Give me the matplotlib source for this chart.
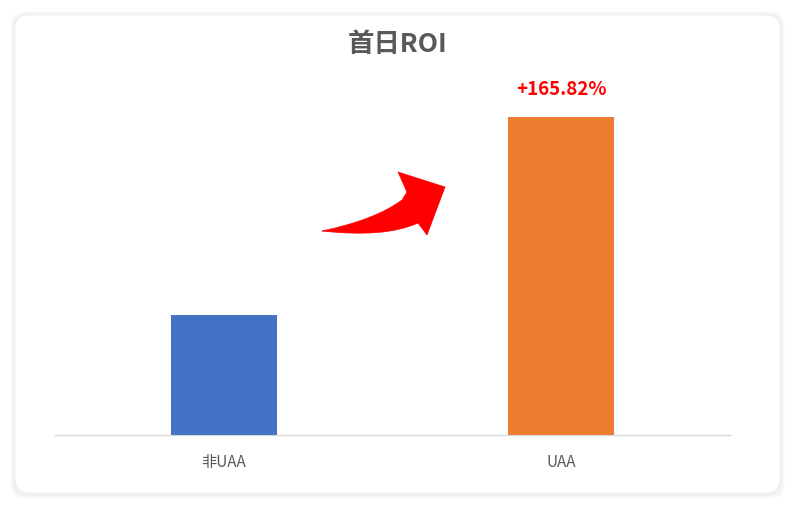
import matplotlib
matplotlib.use("Agg")
import matplotlib.pyplot as plt
from matplotlib.patches import FancyBboxPatch, PathPatch
from matplotlib.path import Path

plt.rcParams['font.family'] = ['Noto Sans CJK SC', 'DejaVu Sans']

categories = ["非UAA", "UAA"]
roi = [1.0, 2.6582]
colors = ["#4472C4", "#ED7D31"]
growth_label = "+165.82%"
title = "首日ROI"

W, H = 795, 509
fig = plt.figure(figsize=(W / 100, H / 100), dpi=100)
fig.patch.set_facecolor("white")

def fx(x):
    return x / W

def fy(y):
    return 1 - y / H

# card shadow + card
for i, a in enumerate([0.010, 0.013, 0.016, 0.020]):
    s = 5 - i
    sh = FancyBboxPatch((fx(15 - s), fy(493 + s + 1)), fx(765 + 2 * s), (478 + 2 * s) / H,
                        boxstyle="round,pad=0,rounding_size=0.018",
                        transform=fig.transFigure, facecolor="black", edgecolor="none",
                        alpha=a, zorder=-3, mutation_aspect=W / H)
    fig.patches.append(sh)
card = FancyBboxPatch((fx(15), fy(493)), fx(765), 478 / H,
                      boxstyle="round,pad=0,rounding_size=0.018",
                      transform=fig.transFigure, facecolor="white", edgecolor="#F0F0F0",
                      linewidth=0.5, zorder=-2, mutation_aspect=W / H)
fig.patches.append(card)

ax = fig.add_axes([fx(55), fy(435), fx(730) - fx(55), fy(78) - fy(435)])
ax.set_zorder(2)
ax.set_facecolor("none")
x = list(range(len(categories)))
ax.bar(x, roi, width=0.315, color=colors, zorder=3)
ax.set_xlim(-0.5, 1.5)
ax.set_ylim(0, 2.984)
ax.set_yticks([])
ax.set_xticks(x)
ax.set_xticklabels(categories, fontsize=11, color="#595959")
ax.tick_params(axis="x", length=0, pad=14)
for sp in ["top", "left", "right"]:
    ax.spines[sp].set_visible(False)
ax.spines["bottom"].set_color("#D9D9D9")
ax.spines["bottom"].set_linewidth(1)

ax.text(1, roi[1] + 0.15, growth_label, ha="center", va="bottom",
        fontsize=13.5, fontweight="heavy", color="red")

fig.text(0.5, fy(45), title, ha="center", va="center",
         fontsize=19, fontweight="bold", color="#595959", zorder=3)

# curved arrow
pts = [
    (322, 231), (375, 220), (402, 200), (407, 192),
    (398, 172), (445, 187), (427, 235), (418, 223),
    (385, 238), (322, 231),
]
verts = [(fx(px), fy(py)) for px, py in pts]
codes = [Path.MOVETO, Path.CURVE3, Path.CURVE3, Path.LINETO,
         Path.LINETO, Path.LINETO, Path.LINETO, Path.LINETO,
         Path.CURVE3, Path.CURVE3]
arrow = PathPatch(Path(verts, codes), transform=fig.transFigure,
                  facecolor="red", edgecolor="red", linewidth=0.5, zorder=5)
fig.patches.append(arrow)

fig.savefig("out.png", dpi=100)
